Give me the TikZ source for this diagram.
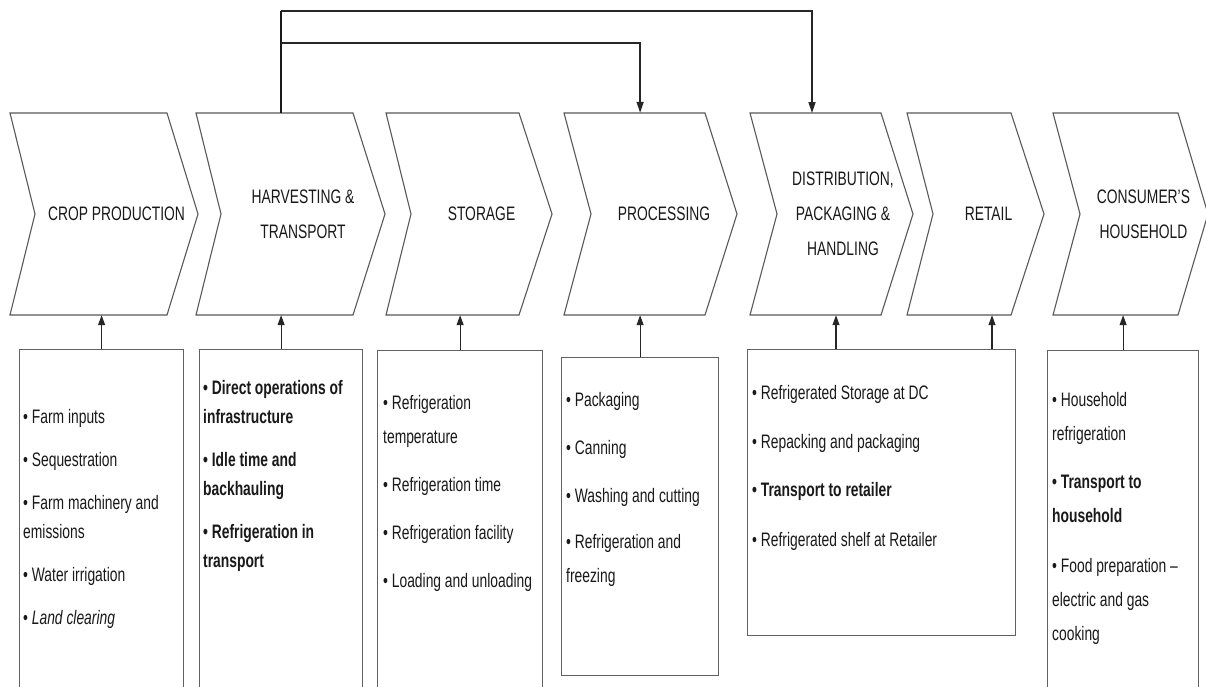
\documentclass[tikz,border=0pt]{standalone}
\usepackage{fontspec}
\setmainfont{Liberation Sans}[FakeStretch=0.71]
\usetikzlibrary{arrows.meta}
\begin{document}
\begin{tikzpicture}[x=1pt,y=-1pt,
  chev/.style={draw=black!65, line width=1.1pt, line join=miter},
  hlabel/.style={align=center, minimum height=202pt, inner sep=0pt,
    font=\fontsize{19.5}{35}\selectfont, text=black!90},
  listbox/.style={draw=black!62, line width=1.2pt, anchor=north west, inner sep=0pt},
  itemsA/.style={align=left, anchor=north west, inner sep=0pt, text=black!90,
    font=\fontsize{19.5}{29}\selectfont},
  itemsB/.style={align=left, anchor=north west, inner sep=0pt, text=black!90,
    font=\fontsize{19.5}{34}\selectfont},
  conn/.style={draw=black!90, line width=1.6pt},
  uparrow/.style={draw=black!85, line width=1.1pt, -{Triangle[length=10pt,width=7pt]}},
  downarrow/.style={draw=black!85, line width=1.6pt, -{Triangle[length=11pt,width=7pt]}}
]
\useasboundingbox (0,0) rectangle (1206,686);
\fill[white] (0,0) rectangle (1206,686);
\clip (0,0) rectangle (1206,686);

% chevrons
\draw[chev] (10,113) -- (167,113) -- (198,214) -- (167,315) -- (10,315) -- (35,214) -- cycle;
\draw[chev] (196,113) -- (353,113) -- (385,214) -- (353,315) -- (196,315) -- (221,214) -- cycle;
\draw[chev] (386,113) -- (519,113) -- (552,214) -- (519,315) -- (386,315) -- (411,214) -- cycle;
\draw[chev] (564,113) -- (705,113) -- (737,214) -- (705,315) -- (564,315) -- (591,214) -- cycle;
\draw[chev] (750,113) -- (881,113) -- (913,214) -- (881,315) -- (750,315) -- (777,214) -- cycle;
\draw[chev] (907,113) -- (1011,113) -- (1044,214) -- (1011,315) -- (907,315) -- (933,214) -- cycle;
\draw[chev] (1053,113) -- (1178,113) -- (1208,214) -- (1178,315) -- (1053,315) -- (1080,214) -- cycle;

\node[hlabel] (c1) at (116.5,214) {CROP PRODUCTION};
\node[hlabel] (c2) at (303,214) {HARVESTING \&\\TRANSPORT};
\node[hlabel] (c3) at (481.5,214) {STORAGE};
\node[hlabel] (c4) at (664,214) {PROCESSING};
\node[hlabel] (c5) at (843,214) {DISTRIBUTION,\\PACKAGING \&\\HANDLING};
\node[hlabel] (c6) at (988.5,214) {RETAIL};
\node[hlabel] (c7) at (1143.5,214) {CONSUMER'S\\HOUSEHOLD};

% boxes
\node[listbox, minimum width=164pt, minimum height=360pt] (b1) at (19,349) {};
\node[listbox, minimum width=163pt, minimum height=360pt] (b2) at (199,349) {};
\node[listbox, minimum width=165pt, minimum height=360pt] (b3) at (377,350) {};
\node[listbox, minimum width=157pt, minimum height=318pt] (b4) at (561,357) {};
\node[listbox, minimum width=268pt, minimum height=286pt] (b5) at (747,349) {};
\node[listbox, minimum width=151pt, minimum height=360pt] (b6) at (1047,350) {};

% box texts
\node[itemsA] (t1) at (23,409) {• Farm inputs\\[14pt]• Sequestration\\[14pt]• Farm machinery and\\emissions\\[14pt]• Water irrigation\\[14pt]• \textit{Land clearing}};
\node[itemsA, font=\fontsize{19.5}{29}\selectfont\bfseries] (t2) at (203,380) {• Direct operations of\\infrastructure\\[14pt]• Idle time and\\backhauling\\[14pt]• Refrigeration in\\transport};
\node[itemsB] (t3) at (383,395) {• Refrigeration\\temperature\\[14pt]• Refrigeration time\\[14pt]• Refrigeration facility\\[14pt]• Loading and unloading};
\node[itemsB] (t4) at (566,392) {• Packaging\\[14pt]• Canning\\[14pt]• Washing and cutting\\[12pt]• Refrigeration and\\freezing};
\node[itemsB] (t5) at (752,385) {• Refrigerated Storage at DC\\[15pt]• Repacking and packaging\\[14pt]\textbf{• Transport to retailer}\\[16pt]• Refrigerated shelf at Retailer};
\node[itemsB] (t6) at (1052,392) {• Household\\refrigeration\\[14pt]\textbf{• Transport to}\\\textbf{household}\\[16pt]• Food preparation –\\electric and gas\\cooking};

% upward arrows
\coordinate (b5a) at (836,349);
\coordinate (b5b) at (992,349);
\draw[uparrow] (b1.north) -- (b1.north |- c1.south);
\draw[uparrow] (b2.north) -- (b2.north |- c2.south);
\draw[uparrow] (b3.north) -- (b3.north |- c3.south);
\draw[uparrow] (b4.north) -- (b4.north |- c4.south);
\draw[uparrow] (b5a) -- (b5a |- c5.south);
\draw[uparrow] (b5b) -- (b5b |- c6.south);
\draw[uparrow] (b6.north) -- (b6.north |- c7.south);

% top connectors
\coordinate (p5) at (812,113);
\draw[conn] (b2.north |- c2.north) -- (b2.north |- 0,11);
\draw[downarrow] (b2.north |- 0,11) -| (p5);
\draw[downarrow] (b2.north |- 0,43) -| (b4.north |- c4.north);
\end{tikzpicture}
\end{document}
